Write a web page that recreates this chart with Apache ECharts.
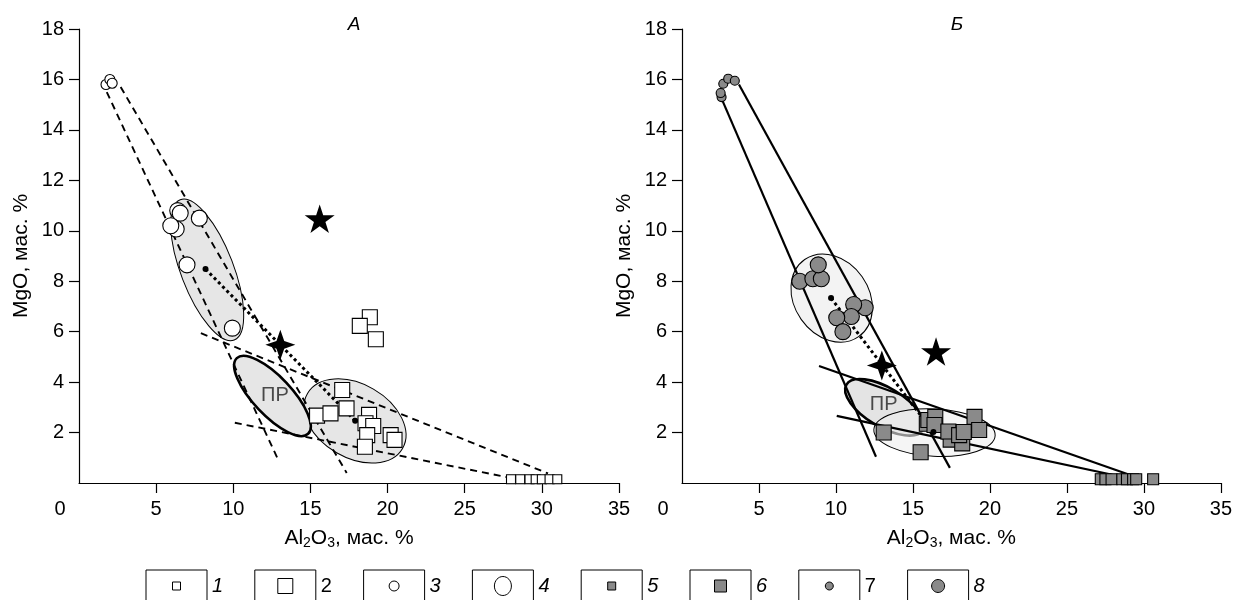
<!DOCTYPE html>
<html>
<head>
<meta charset="utf-8">
<script src="https://cdn.jsdelivr.net/npm/echarts@6/dist/echarts.min.js"></script>
<style>
  html, body { margin: 0; background: #fff; }
  #chart { width: 1235px; height: 600px; }
</style>
</head>
<body>
<div id="chart"></div>
<script>
// ---------- ticks ----------
var xTicks = [5, 10, 15, 20, 25, 30, 35];
var xLabels = [0, 5, 10, 15, 20, 25, 30, 35];
var yTicks = [2, 4, 6, 8, 10, 12, 14, 16, 18];

// ---------- panel А ----------
var smallSquaresA = [[28.0,0.15],[28.6,0.15],[29.2,0.15],[29.6,0.15],[30.0,0.15],[30.5,0.15],[31.0,0.15]];
var squaresA = [[18.85,6.57],[18.2,6.23],[19.24,5.70],[17.06,3.69],[15.43,2.67],[16.3,2.76],[17.34,2.96],
  [18.8,2.70],[18.57,2.37],[19.07,2.26],[18.68,1.9],[20.2,1.9],[20.45,1.71],[18.53,1.44]];
var smallCirclesA = [[1.75,15.8],[2.0,16.0],[2.15,15.85]];
var circlesA = [[6.4,10.8],[6.56,10.7],[6.3,10.07],[5.95,10.2],[7.8,10.5],[7.0,8.65],[9.94,6.14]];
var starA = [[15.6,10.48]];
var crossStarA = [[13.05,5.48]];
var centroidsA = [[8.2,8.48],[17.9,2.47]];
// ellipses: centre x, centre y, end of major axis x, y, minor/major ratio
var ellipsesA = [[8.31,8.45,6.56,11.23,0.35],[17.89,2.46,20.97,1.37,0.67]];
var prEllipseA = [[12.54,3.45,14.85,1.95,0.37]];
var prLabelA = [[12.7,3.45]];
var dashedA = [
  [[1.8,15.5],[12.85,1.0]],
  [[2.7,15.7],[17.35,0.4]],
  [[7.9,5.94],[30.4,0.38]],
  [[10.1,2.39],[28.0,0.2]]
];

// ---------- panel Б ----------
var smallSquaresB = [[27.2,0.15],[27.5,0.15],[27.9,0.15],[28.6,0.15],[28.9,0.15],[29.3,0.15],[29.5,0.15],[30.6,0.15]];
var squaresB = [[13.1,2.0],[15.5,1.22],[15.9,2.35],[16.0,2.5],[16.45,2.62],[16.4,2.3],[17.45,1.72],[17.3,2.04],
  [18.2,1.57],[18.0,1.9],[18.3,2.02],[19.0,2.62],[19.3,2.1]];
var smallCirclesB = [[2.57,15.3],[2.51,15.46],[2.68,15.83],[3.0,16.03],[3.43,15.95]];
var circlesB = [[7.65,8.0],[8.5,8.1],[9.05,8.1],[8.85,8.65],[11.9,6.95],[11.15,7.08],[11.0,6.6],[10.05,6.55],[10.45,6.0]];
var starB = [[16.5,5.21]];
var crossStarB = [[12.98,4.66]];
var centroidsB = [[9.68,7.33],[16.33,2.02]];
var ellipseB = [[9.72,7.33,11.47,5.8,0.79]];
var prEllipseB = [[13.16,3.0,15.64,2.1,0.44]];
var squareEllipseB = [[16.4,2.0,20.34,1.88,0.39]];
var prLabelB = [[13.1,3.12]];
var solidB = [
  [[2.6,15.2],[12.6,1.04]],
  [[3.7,15.8],[17.4,0.6]],
  [[8.9,4.64],[29.2,0.3]],
  [[10.05,2.66],[29.7,0.1]]
];

// legend
var legendNames = ['1', '2', '3', '4', '5', '6', '7', '8'];

var FONT = '"Liberation Sans", Arial, sans-serif';
var GRAY = '#8a8a8a';
var STAR5 = 'path://M0,-10L2.245,-3.09L9.511,-3.09L3.633,1.18L5.878,8.09L0,3.82L-5.878,8.09L-3.633,1.18L-9.511,-3.09L-2.245,-3.09Z';
var STAR4 = 'path://M0,-10L2.6,-2.6L10,0L2.6,2.6L0,10L-2.6,2.6L-10,0L-2.6,-2.6Z';

var chart = echarts.init(document.getElementById('chart'), null, { renderer: 'canvas' });

function xAxis(g) {
  return {
    type: 'value', gridIndex: g, min: 0, max: 35, interval: 5,
    axisLine: { onZero: false, lineStyle: { color: '#000', width: 1.2 } },
    axisTick: { length: 10, customValues: xTicks, lineStyle: { color: '#000', width: 1.2 } },
    axisLabel: {
      customValues: xLabels, margin: 16, color: '#000', fontSize: 20, fontFamily: FONT,
      formatter: function (v) { return v === 0 ? '{z|0}' : String(v); },
      rich: { z: { padding: [0, 38, 0, 0], fontSize: 20, fontFamily: FONT, color: '#000' } }
    },
    splitLine: { show: false },
    name: 'Al{s|2}O{s|3}, мас. %', nameLocation: 'middle', nameGap: 43,
    nameTextStyle: {
      color: '#000', fontSize: 21, fontFamily: FONT, lineHeight: 24,
      rich: { s: { fontSize: 14, lineHeight: 11, verticalAlign: 'bottom', fontFamily: FONT, color: '#000' } }
    }
  };
}
function yAxis(g) {
  return {
    type: 'value', gridIndex: g, min: 0, max: 18, interval: 2,
    axisLine: { onZero: false, lineStyle: { color: '#000', width: 1.2 } },
    axisTick: { length: 10, customValues: yTicks, lineStyle: { color: '#000', width: 1.2 } },
    axisLabel: { customValues: yTicks, margin: 15, color: '#000', fontSize: 20, fontFamily: FONT },
    splitLine: { show: false },
    name: 'MgO, мас. %', nameLocation: 'middle', nameGap: 47,
    nameTextStyle: { color: '#000', fontSize: 21, fontFamily: FONT }
  };
}

function renderEllipse(style) {
  return function (params, api) {
    var c = api.coord([api.value(0), api.value(1)]);
    var e = api.coord([api.value(2), api.value(3)]);
    var dx = e[0] - c[0], dy = e[1] - c[1];
    var a = Math.sqrt(dx * dx + dy * dy);
    return {
      type: 'ellipse', x: c[0], y: c[1], rotation: -Math.atan2(dy, dx),
      shape: { cx: 0, cy: 0, rx: a, ry: a * api.value(4) },
      style: style
    };
  };
}
function ellipses(data, g, style, z) {
  return { type: 'custom', xAxisIndex: g, yAxisIndex: g, data: data, z: z, silent: true,
    renderItem: renderEllipse(style), clip: false };
}
function segment(pts, g, type, width) {
  return { type: 'line', xAxisIndex: g, yAxisIndex: g, data: pts, symbol: 'none', z: 3, silent: true,
    lineStyle: { color: '#000', width: width, type: type } };
}
function scatter(data, g, symbol, size, fill, z) {
  return { type: 'scatter', xAxisIndex: g, yAxisIndex: g, data: data, symbol: symbol, symbolSize: size,
    symbolKeepAspect: true, z: z || 4, silent: true, clip: false,
    itemStyle: { color: fill, borderColor: '#000', borderWidth: fill === '#000' ? 0 : 1.1, opacity: 1 } };
}
function textMark(data, g, text) {
  return { type: 'scatter', xAxisIndex: g, yAxisIndex: g, data: data, symbolSize: 0, z: 3, silent: true,
    label: { show: true, position: 'inside', formatter: text, color: '#222', fontSize: 20, fontFamily: FONT } };
}

var series = [];
// panel А
series.push(ellipses(ellipsesA, 0, { fill: '#e6e6e6', stroke: '#000', lineWidth: 1 }, 1));
series.push(ellipses(prEllipseA, 0, { fill: '#e6e6e6', stroke: '#000', lineWidth: 2.6 }, 1));
dashedA.forEach(function (s) { series.push(segment(s, 0, [7, 5], 1.9)); });
series.push(segment(centroidsA, 0, [3, 3], 3));
series.push(textMark(prLabelA, 0, 'ПР'));
series.push(scatter(centroidsA, 0, 'circle', 6, '#000'));
series.push(scatter(smallSquaresA, 0, 'rect', 9, '#fff'));
series.push(scatter(squaresA, 0, 'rect', 15, '#fff'));
series.push(scatter(smallCirclesA, 0, 'circle', 10, '#fff'));
series.push(scatter(circlesA, 0, 'circle', 16, '#fff'));
series.push(scatter(starA, 0, STAR5, 30, '#000', 5));
series.push(scatter(crossStarA, 0, STAR4, 30, '#000', 5));
// panel Б
series.push(ellipses(ellipseB, 1, { fill: '#f3f3f3', stroke: '#000', lineWidth: 1 }, 1));
series.push(ellipses(prEllipseB, 1, { fill: '#e4e4e4', stroke: '#000', lineWidth: 2.6 }, 1));
series.push(ellipses(squareEllipseB, 1, { fill: 'rgba(238,238,238,0.6)', stroke: '#000', lineWidth: 1 }, 2));
solidB.forEach(function (s) { series.push(segment(s, 1, 'solid', 2.2)); });
series.push(segment(centroidsB, 1, [3, 3], 3));
series.push(textMark(prLabelB, 1, 'ПР'));
series.push(scatter(smallSquaresB, 1, 'rect', 11, GRAY));
series.push(scatter(squaresB, 1, 'rect', 15, GRAY));
series.push(scatter(smallCirclesB, 1, 'circle', 9, GRAY));
series.push(scatter(circlesB, 1, 'circle', 16, GRAY));
series.push(scatter(centroidsB, 1, 'circle', 6, '#000', 5));
series.push(scatter(starB, 1, STAR5, 30, '#000', 5));
series.push(scatter(crossStarB, 1, STAR4, 30, '#000', 5));

// legend boxes drawn as graphics
var legendSymbols = [
  { shape: 'rect', w: 8, h: 8, fill: '#fff' },
  { shape: 'rect', w: 15, h: 15, fill: '#fff' },
  { shape: 'circle', w: 10, h: 10, fill: '#fff' },
  { shape: 'circle', w: 17, h: 19, fill: '#fff' },
  { shape: 'rect', w: 8, h: 8, fill: GRAY },
  { shape: 'rect', w: 12, h: 12, fill: GRAY },
  { shape: 'circle', w: 8, h: 8, fill: GRAY },
  { shape: 'circle', w: 13, h: 13, fill: GRAY }
];
var graphic = [];
legendNames.forEach(function (name, i) {
  var x0 = 146 + i * 108.8, yTop = 570, cx = x0 + 30.5, cy = 586;
  var sym = legendSymbols[i];
  graphic.push({ type: 'rect', shape: { x: x0, y: yTop, width: 61, height: 36 },
    style: { fill: '#fff', stroke: '#000', lineWidth: 1 }, silent: true });
  if (sym.shape === 'rect') {
    graphic.push({ type: 'rect', shape: { x: cx - sym.w / 2, y: cy - sym.h / 2, width: sym.w, height: sym.h },
      style: { fill: sym.fill, stroke: '#000', lineWidth: 1 }, silent: true });
  } else {
    graphic.push({ type: 'ellipse', shape: { cx: cx, cy: cy, rx: sym.w / 2, ry: sym.h / 2 },
      style: { fill: sym.fill, stroke: '#000', lineWidth: 1 }, silent: true });
  }
  graphic.push({ type: 'text', x: x0 + 66, y: cy, silent: true,
    style: { text: name, fill: '#000', font: (name === '2' || name === '7' ? '' : 'italic ') + '20px ' + FONT,
      verticalAlign: 'middle', align: 'left' } });
});

chart.setOption({
  animation: false,
  backgroundColor: '#fff',
  title: [
    { text: 'А', left: 349, top: 10, textAlign: 'center',
      textStyle: { fontStyle: 'italic', fontWeight: 'normal', fontSize: 19, fontFamily: FONT, color: '#000' } },
    { text: 'Б', left: 952, top: 10, textAlign: 'center',
      textStyle: { fontStyle: 'italic', fontWeight: 'normal', fontSize: 19, fontFamily: FONT, color: '#000' } }
  ],
  grid: [
    { left: 79, top: 29, width: 540, height: 454 },
    { left: 682, top: 29, width: 540, height: 454 }
  ],
  xAxis: [xAxis(0), xAxis(1)],
  yAxis: [yAxis(0), yAxis(1)],
  series: series,
  graphic: graphic
});
</script>
</body>
</html>
